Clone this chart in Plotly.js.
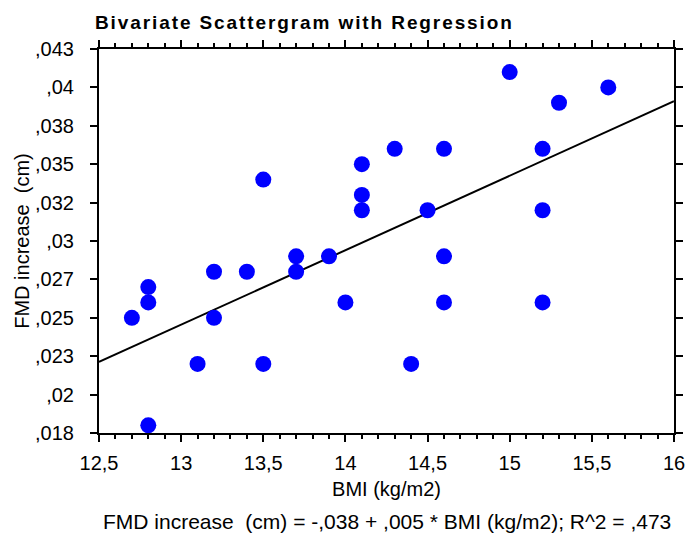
<!DOCTYPE html>
<html>
<head>
<meta charset="utf-8">
<script src="https://cdn.plot.ly/plotly-3.0.1.min.js"></script>
<style>
  html, body { margin: 0; padding: 0; background: #fff; }
  #chart { width: 689px; height: 534px; }
  .gtitle { letter-spacing: 1.9px; }
</style>
</head>
<body>
<div id="chart"></div>
<script>
// ---- data ----
const bmi = [12.7, 12.8, 12.8, 12.8, 13.1, 13.2, 13.2, 13.4, 13.5, 13.5,
             13.7, 13.7, 13.9, 14.0, 14.1, 14.1, 14.1, 14.3, 14.4, 14.5,
             14.6, 14.6, 14.6, 15.0, 15.2, 15.2, 15.2, 15.3, 15.6];
const fmdIncrease = [0.025, 0.027, 0.026, 0.018, 0.022, 0.028, 0.025, 0.028, 0.034, 0.022,
                     0.029, 0.028, 0.029, 0.026, 0.035, 0.033, 0.032, 0.036, 0.022, 0.032,
                     0.036, 0.029, 0.026, 0.041, 0.036, 0.032, 0.026, 0.039, 0.040];
// regression line as drawn (reported as -,038 + ,005 * BMI)
const fitIntercept = -0.0385;
const fitSlope = 0.00485;

const xRange = [12.5, 16];
const xTickVals = [12.5, 13, 13.5, 14, 14.5, 15, 15.5, 16];
const xTickText = ["12,5", "13", "13,5", "14", "14,5", "15", "15,5", "16"];
const yRange = [0.0175, 0.0425];
const yTickVals = [0.0175, 0.02, 0.0225, 0.025, 0.0275, 0.03, 0.0325, 0.035, 0.0375, 0.04, 0.0425];
const yTickText = [",018", ",02", ",023", ",025", ",027", ",03", ",032", ",035", ",038", ",04", ",043"];

const chartTitle = "Bivariate Scattergram with Regression";
const xTitle = "BMI (kg/m2)";
const yTitle = "FMD increase\u00A0\u00A0(cm)";
const footer = "FMD increase\u00A0\u00A0(cm) = -,038 + ,005 * BMI (kg/m2); R^2 = ,473";

const FONT = "Liberation Sans, Arial, sans-serif";

const lineY = xRange.map(x => fitIntercept + fitSlope * x);

const traces = [
  {
    type: "scatter", mode: "lines",
    x: xRange, y: lineY,
    line: { color: "#000000", width: 2 },
    hoverinfo: "skip", showlegend: false
  },
  {
    type: "scatter", mode: "markers",
    x: bmi, y: fmdIncrease,
    marker: { color: "#0000FF", size: 16, line: { width: 0 } },
    cliponaxis: false, showlegend: false
  }
];

const layout = {
  width: 689, height: 534,
  margin: { l: 99, r: 15, t: 49, b: 101 },
  paper_bgcolor: "#ffffff", plot_bgcolor: "#ffffff",
  font: { family: FONT, size: 20, color: "#000000" },
  showlegend: false,
  title: {
    text: chartTitle,
    font: { family: FONT, size: 19, weight: "bold", color: "#000000" },
    xref: "container", x: 95 / 689, xanchor: "left",
    yref: "container", y: 1 - 22 / 534, yanchor: "middle",
    pad: { t: 0, b: 0, l: 0, r: 0 }
  },
  xaxis: {
    range: xRange, tickmode: "array", tickvals: xTickVals, ticktext: xTickText,
    showgrid: false, zeroline: false,
    showline: true, linecolor: "#000000", linewidth: 2, mirror: "ticks",
    ticks: "outside", ticklen: 7, tickwidth: 2, tickcolor: "#000000",
    minor: { dtick: 0.1, ticks: "outside", ticklen: 4, tickwidth: 2, tickcolor: "#000000", showgrid: false },
    tickfont: { family: FONT, size: 20, color: "#000000" },
    ticklabelstandoff: 4,
    title: { text: xTitle, font: { family: FONT, size: 20, color: "#000000" }, standoff: 9 }
  },
  yaxis: {
    range: yRange, tickmode: "array", tickvals: yTickVals, ticktext: yTickText,
    showgrid: false, zeroline: false,
    showline: true, linecolor: "#000000", linewidth: 2, mirror: "ticks",
    ticks: "outside", ticklen: 7, tickwidth: 2, tickcolor: "#000000",
    tickfont: { family: FONT, size: 20, color: "#000000" },
    ticklabelstandoff: 12,
    title: { text: yTitle, font: { family: FONT, size: 20, color: "#000000" }, standoff: 0 }
  },
  annotations: [
    {
      text: footer, showarrow: false,
      xref: "paper", x: 0.5, xanchor: "center",
      yref: "paper", y: (433 - 521) / 384, yanchor: "middle",
      font: { family: FONT, size: 21, color: "#000000" }
    }
  ]
};

Plotly.newPlot("chart", traces, layout, { staticPlot: true, displayModeBar: false });
</script>
</body>
</html>
